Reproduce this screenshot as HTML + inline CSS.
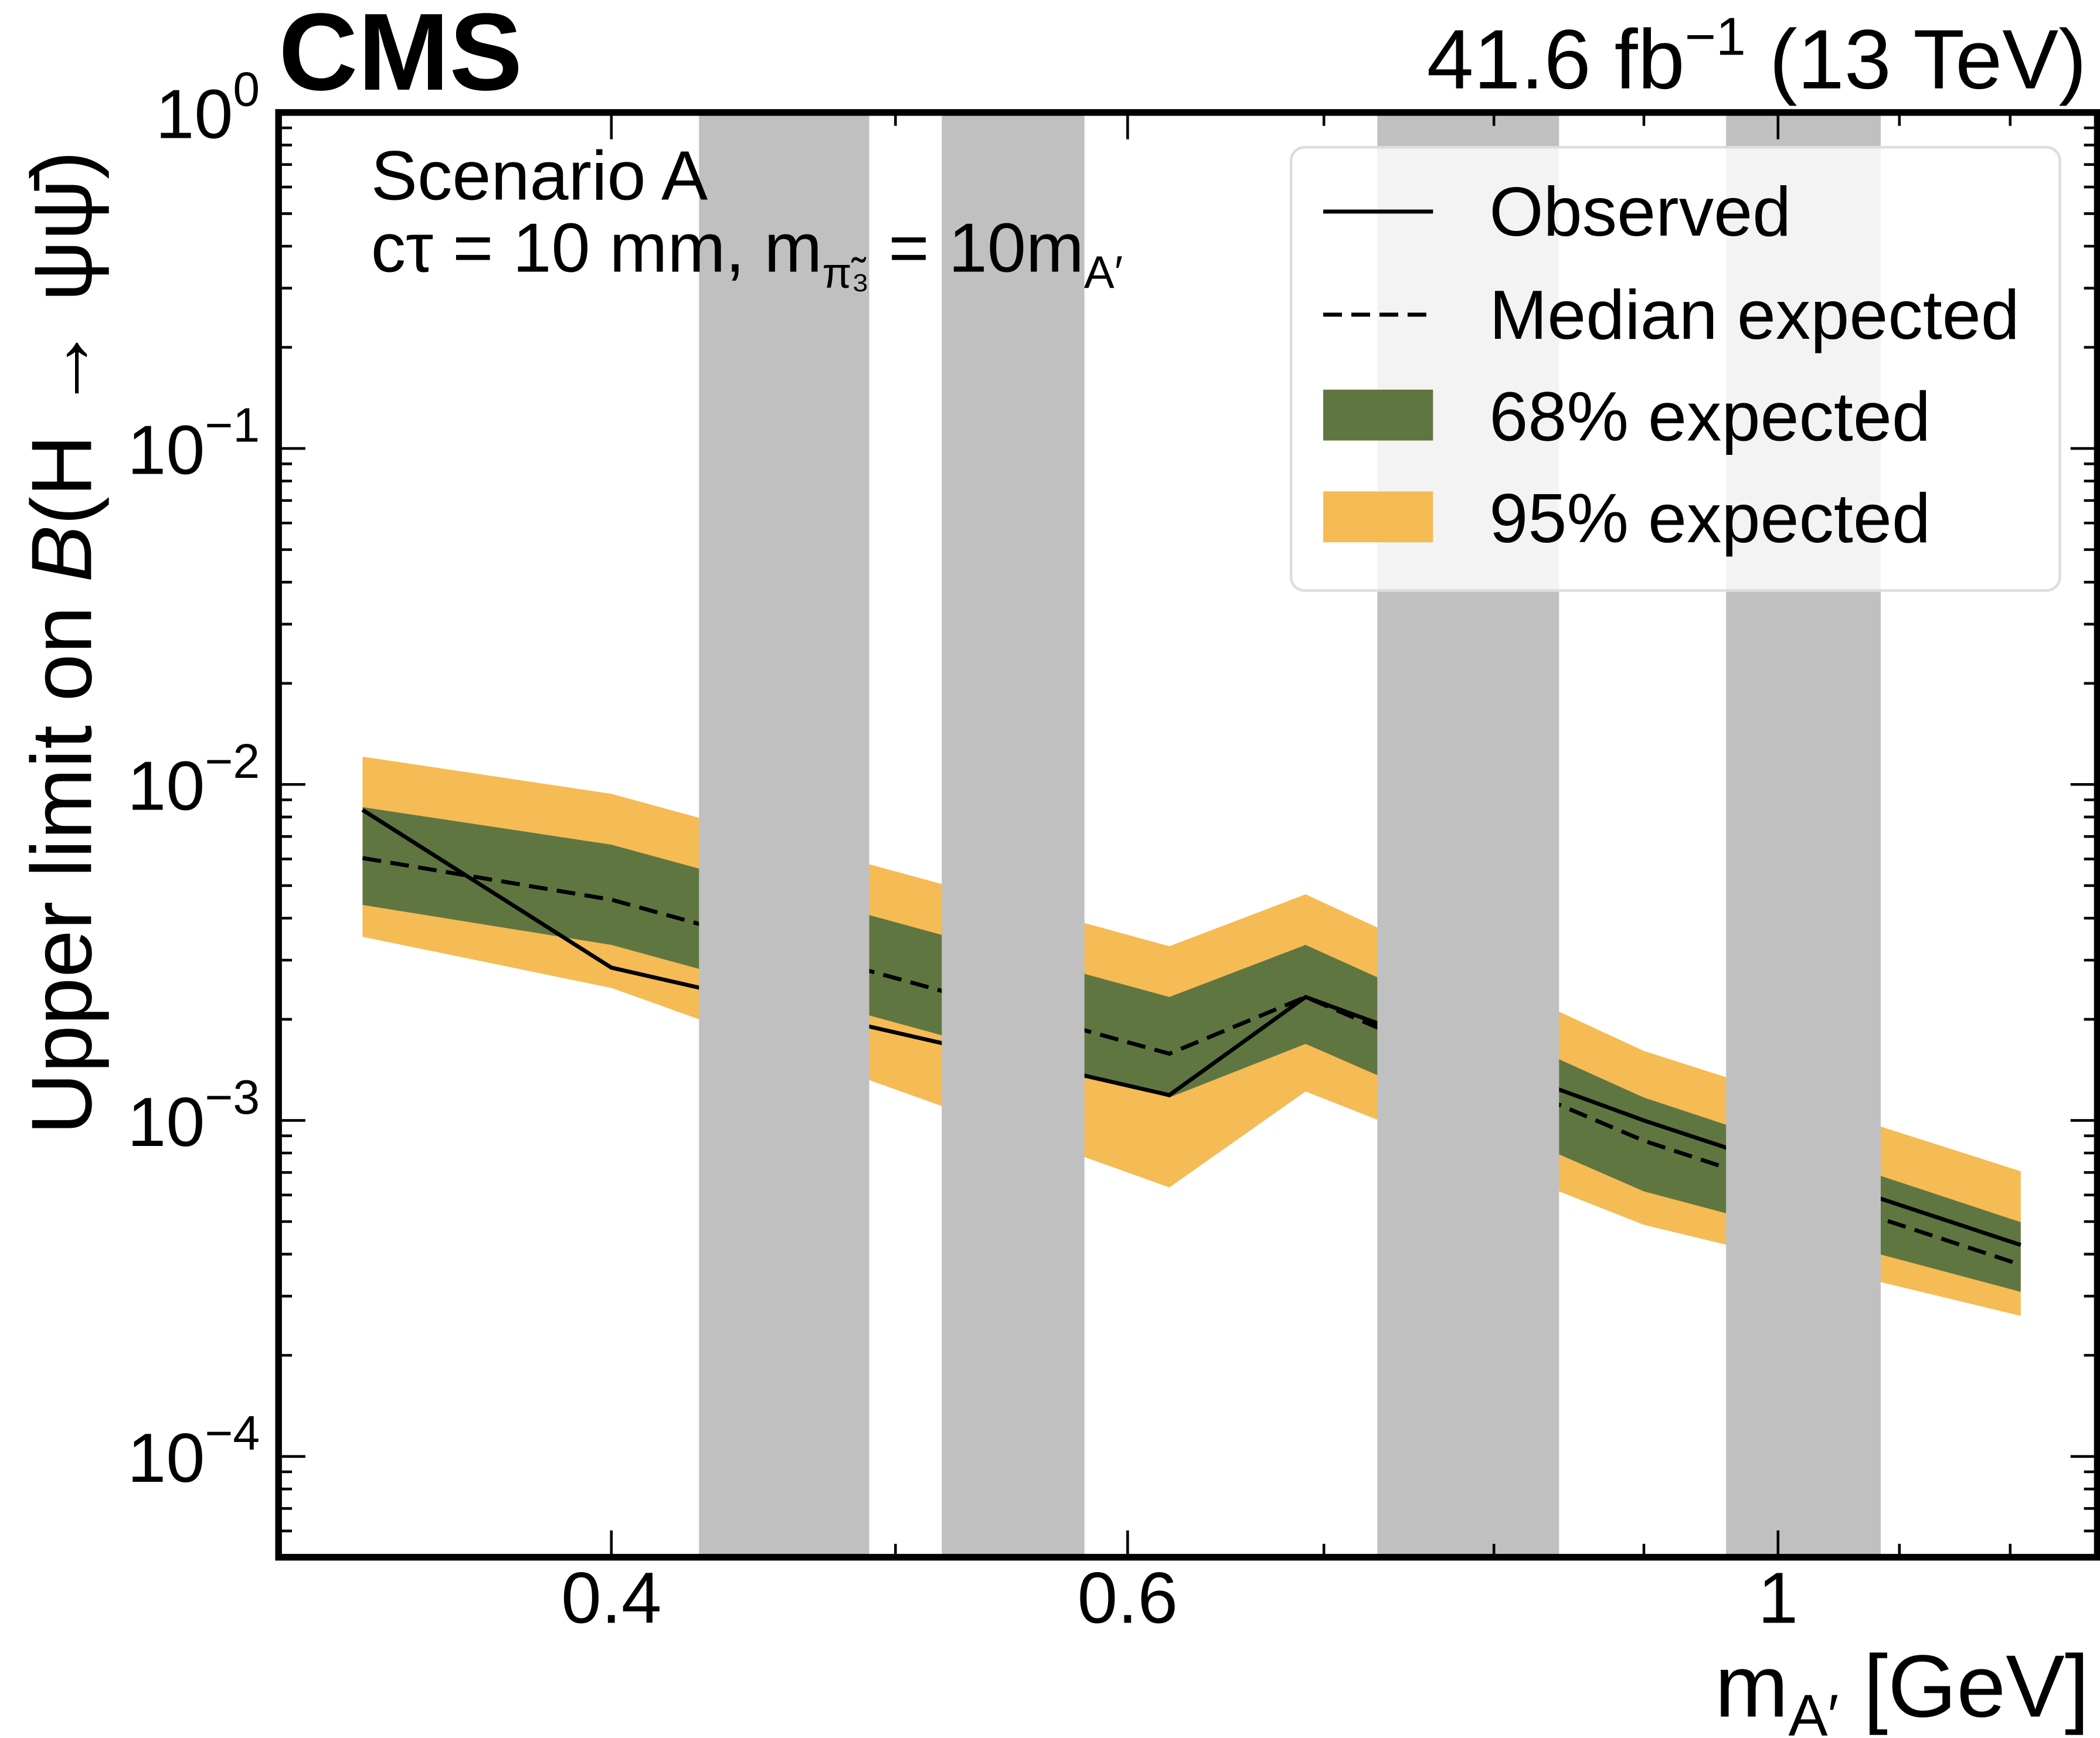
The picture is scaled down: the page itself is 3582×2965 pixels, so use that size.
<!DOCTYPE html>
<html><head><meta charset="utf-8"><style>
html,body{margin:0;padding:0;background:#fff;}
svg{display:block;font-family:"Liberation Sans",sans-serif;}
</style></head><body>
<svg id="chart" width="3582" height="2965" viewBox="0 0 1568 1298" preserveAspectRatio="none" xmlns="http://www.w3.org/2000/svg">
<rect width="1568" height="1298" fill="#fff"/>
<g id="bands"></g>
<g id="lines"></g>
<g id="vetos"></g>
<g id="legend">
  <rect x="964" y="110" width="574" height="331" rx="10" fill="#fff" fill-opacity="0.8" stroke="#ddd" stroke-width="2"/>
  <line x1="988" y1="158" x2="1070" y2="158" stroke="#000" stroke-width="3"/>
  <text x="1112" y="176" font-size="52">Observed</text>
  <line x1="988" y1="235" x2="1070" y2="235" stroke="#000" stroke-width="3" stroke-dasharray="14,7"/>
  <text x="1112" y="253" font-size="52">Median expected</text>
  <rect x="988" y="291" width="82" height="38" fill="#607641"/>
  <text x="1112" y="329" font-size="52">68% expected</text>
  <rect x="988" y="367" width="82" height="38" fill="#f5bb54"/>
  <text x="1112" y="405" font-size="52">95% expected</text>
</g>
<g id="axes"></g>
<rect x="208" y="84" width="1358" height="1079" fill="none" stroke="#000" stroke-width="5"/>
<text x="208" y="67" font-size="82" font-weight="bold">CMS</text>
<text x="1558" y="66" font-size="63" text-anchor="end">41.6 fb<tspan dy="-25" font-size="40">−1</tspan><tspan dy="25"> (13 TeV)</tspan></text>
<text x="277" y="149" font-size="52">Scenario A</text>
<text x="277" y="203" font-size="52">cτ = 10 mm, m<tspan dy="12" font-size="32">π̃₃</tspan><tspan dy="-12"> = 10m</tspan><tspan dy="12" font-size="34">A′</tspan></text>
<text x="1560" y="1282" font-size="66" text-anchor="end">m<tspan dy="14" font-size="44">A′</tspan><tspan dy="-14"> [GeV]</tspan></text>
<text transform="translate(68,480) rotate(-90)" font-size="64" text-anchor="middle">Upper limit on <tspan font-style="italic">B</tspan>(H → ψψ̄)</text>
</svg>
<script>
const masses = [0.329, 0.4, 0.62, 0.69, 0.9, 1.21];
const observed = [8.4e-3, 2.85e-3, 1.19e-3, 2.33e-3, 1.0e-3, 4.26e-4];
const median = [6.04e-3, 4.54e-3, 1.58e-3, 2.33e-3, 8.7e-4, 3.72e-4];
const up68 = [8.56e-3, 6.62e-3, 2.33e-3, 3.33e-3, 1.17e-3, 4.98e-4];
const lo68 = [4.38e-3, 3.33e-3, 1.17e-3, 1.69e-3, 6.15e-4, 3.09e-4];
const up95 = [1.21e-2, 9.38e-3, 3.3e-3, 4.71e-3, 1.61e-3, 7.06e-4];
const lo95 = [3.52e-3, 2.48e-3, 6.32e-4, 1.22e-3, 4.89e-4, 2.62e-4];
const vetoLo = [0.4285, 0.5185, 0.730, 0.960];
const vetoHi = [0.4898, 0.580, 0.842, 1.084];
const xTickVals = [0.4, 0.6, 1];
const xTickLabels = ["0.4", "0.6", "1"];
const yDecades = [0, -1, -2, -3, -4];

const NS = "http://www.w3.org/2000/svg";
const L = 208, R = 1566, T = 84, B = 1163;
const xMin = Math.log10(0.308), xMax = Math.log10(1.285);
const yMax = 0, yMin = -4.3;
function xs(v){ return L + (Math.log10(v) - xMin) / (xMax - xMin) * (R - L); }
function ys(v){ return T + (yMax - Math.log10(v)) / (yMax - yMin) * (B - T); }
function mk(tag, attrs, parent){ const e = document.createElementNS(NS, tag); for (const k in attrs) e.setAttribute(k, attrs[k]); parent.appendChild(e); return e; }

const bands = document.getElementById('bands');
function band(up, lo, color, name){
  let d = masses.map((m,i)=>(i?'L':'M')+xs(m)+','+ys(up[i])).join(' ');
  for (let i = masses.length-1; i >= 0; i--) d += ' L'+xs(masses[i])+','+ys(lo[i]);
  const p = mk('path', {d: d+' Z', fill: color}, bands);
  
  
}
band(up95, lo95, '#f5bb54', 'band-95');
band(up68, lo68, '#607641', 'band-68');

const lines = document.getElementById('lines');
function line(vals, dash, name){
  const d = masses.map((m,i)=>(i?'L':'M')+xs(m)+','+ys(vals[i])).join(' ');
  const p = mk('path', {d: d, fill: 'none', stroke: '#000', 'stroke-width': 3}, lines);
  if (dash) p.setAttribute('stroke-dasharray', '14,7');
  
  
}
line(median, true, 'median-expected-line');
line(observed, false, 'observed-line');

const vetos = document.getElementById('vetos');
vetoLo.forEach((lo,i)=>{
  const r = mk('rect', {x: xs(lo), y: T, width: xs(vetoHi[i]) - xs(lo), height: B - T, fill: '#c0c0c0'}, vetos);
  
  
});

const axes = document.getElementById('axes');
yDecades.forEach(dec=>{
  for (let k = 1; k <= 9; k++){
    const v = k * Math.pow(10, dec);
    if (Math.log10(v) < yMin || Math.log10(v) > yMax) continue;
    const y = ys(v), len = k === 1 ? 20 : 10;
    mk('line', {x1: L, y1: y, x2: L+len, y2: y, stroke: '#000', 'stroke-width': 2}, axes);
    mk('line', {x1: R, y1: y, x2: R-len, y2: y, stroke: '#000', 'stroke-width': 2}, axes);
  }
  const t = mk('text', {x: 194, y: ys(Math.pow(10,dec)) + 19, 'font-size': 52, 'text-anchor': 'end'}, axes);
  
  
  t.innerHTML = '10<tspan dy="-24" font-size="36">' + (dec === 0 ? '0' : '−' + (-dec)) + '</tspan>';
});
for (let k = 5; k <= 9; k++){
  const y = ys(k*1e-5);
  mk('line', {x1: L, y1: y, x2: L+10, y2: y, stroke: '#000', 'stroke-width': 2}, axes);
  mk('line', {x1: R, y1: y, x2: R-10, y2: y, stroke: '#000', 'stroke-width': 2}, axes);
}
[0.4,0.5,0.6,0.7,0.8,0.9,1.0,1.1,1.2].forEach(v=>{
  const x = xs(v), major = xTickVals.some(t=>Math.abs(t-v)<1e-9), len = major ? 20 : 10;
  mk('line', {x1: x, y1: B, x2: x, y2: B-len, stroke: '#000', 'stroke-width': 2}, axes);
  mk('line', {x1: x, y1: T, x2: x, y2: T+len, stroke: '#000', 'stroke-width': 2}, axes);
});
xTickVals.forEach((v,i)=>{
  const t = mk('text', {x: xs(v), y: 1212, 'font-size': 54, 'text-anchor': 'middle'}, axes);
  
  
  t.textContent = xTickLabels[i];
});
</script>
</body></html>
